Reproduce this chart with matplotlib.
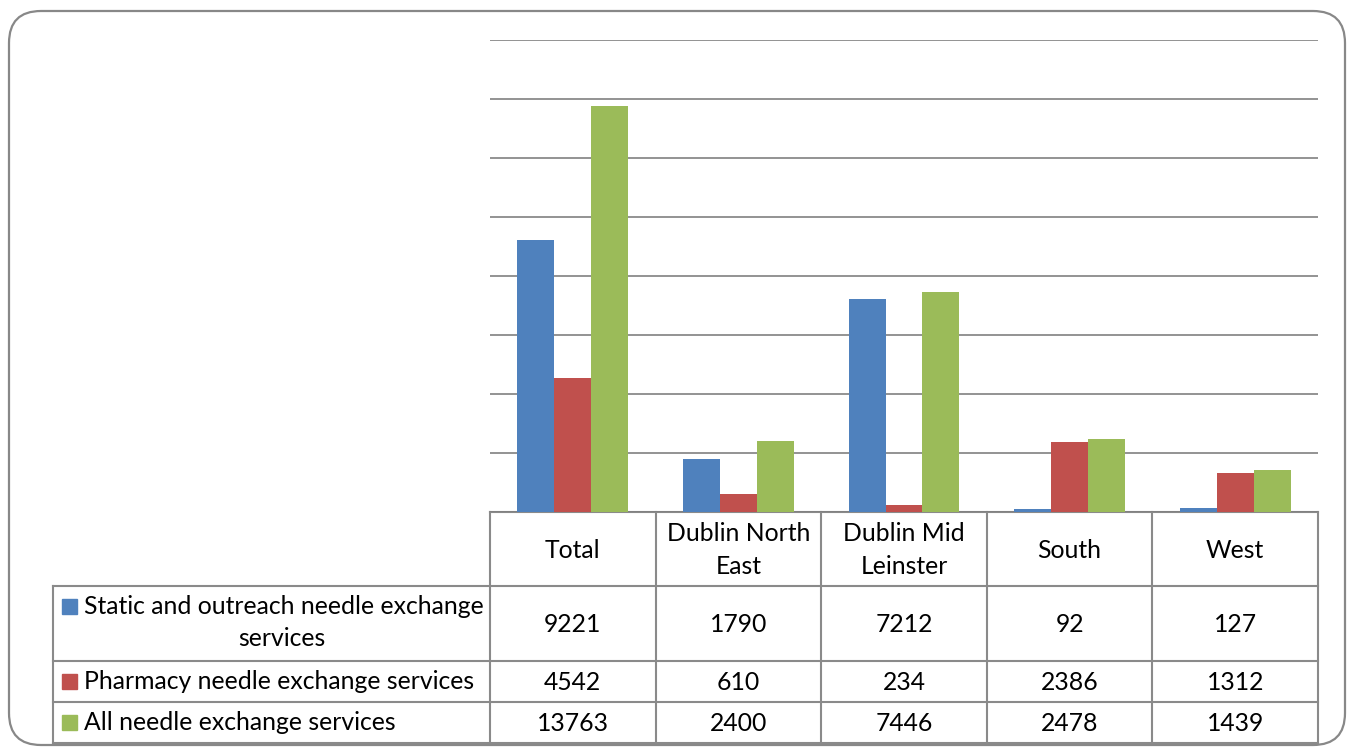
import matplotlib
matplotlib.use("Agg")
import matplotlib.pyplot as plt
import numpy as np
from matplotlib.patches import FancyBboxPatch, Rectangle

categories = ["Total", "Dublin North\nEast", "Dublin Mid\nLeinster", "South", "West"]
series_names = ["Static and outreach needle exchange\nservices",
                "Pharmacy needle exchange services",
                "All needle exchange services"]
static_outreach = [9221, 1790, 7212, 92, 127]
pharmacy = [4542, 610, 234, 2386, 1312]
all_services = [13763, 2400, 7446, 2478, 1439]
colors = ["#4F81BD", "#C0504D", "#9BBB59"]
series = [static_outreach, pharmacy, all_services]

W, H = 1348, 748
fig = plt.figure(figsize=(W / 100, H / 100), dpi=100)
plt.rcParams['font.family'] = ['Lato', 'DejaVu Sans']

def fx(px):
    return px / W
def fy(py):
    return 1 - py / H

PL, PR, PT, PB = 490, 1318, 40, 512
GRID = "#808080"

ov = fig.add_axes([0, 0, 1, 1])
ov.set_xlim(0, W)
ov.set_ylim(H, 0)
ov.axis("off")
ov.add_patch(FancyBboxPatch((9, 11), 1336, 734,
                            boxstyle="round,pad=0,rounding_size=32",
                            fill=False, ec="#888888", lw=1.6))

ax = fig.add_axes([fx(PL), fy(PB), fx(PR) - fx(PL), (PB - PT) / H])
n = len(categories)
x = np.arange(n)
bw = 0.223
for i, (vals, c) in enumerate(zip(series, colors)):
    ax.bar(x + (i - 1) * bw, vals, width=bw, color=c, zorder=3)
ax.set_xlim(-0.5, n - 0.5)
ax.set_ylim(0, 16000)
ax.set_yticks(np.arange(0, 16001, 2000))
ax.yaxis.grid(True, color=GRID, lw=1.2, zorder=0)
ax.set_yticklabels([])
ax.tick_params(left=False, bottom=False, labelbottom=False)
for s in ax.spines.values():
    s.set_visible(False)
ax.set_facecolor("none")

TL = 53
rows_y = [512, 586, 661, 702, 743]
col_w = (PR - PL) / n
col_x = [PL + k * col_w for k in range(n + 1)]
LC = "#8a8a8a"
lw = 1.5
fs = 17.8
ov.plot([PL, PR], [rows_y[0], rows_y[0]], color=LC, lw=lw)
for yv in rows_y[1:]:
    ov.plot([TL, PR], [yv, yv], color=LC, lw=lw)
ov.plot([TL, TL], [rows_y[1], rows_y[-1]], color=LC, lw=lw)
for xv in col_x:
    ov.plot([xv, xv], [rows_y[0], rows_y[-1]], color=LC, lw=lw)

for k, cat in enumerate(categories):
    cx = (col_x[k] + col_x[k + 1]) / 2
    cy = (rows_y[0] + rows_y[1]) / 2
    ov.text(cx, cy + 1, cat, ha="center", va="center", fontsize=fs,
            linespacing=1.5, color="black")

for r, (name, vals, c) in enumerate(zip(series_names, series, colors)):
    y0, y1 = rows_y[r + 1], rows_y[r + 2]
    cy = (y0 + y1) / 2
    for k, v in enumerate(vals):
        cx = (col_x[k] + col_x[k + 1]) / 2
        ov.text(cx, cy + 1, str(v), ha="center", va="center", fontsize=fs, color="black")
    if "\n" in name:
        first, second = name.split("\n")
        ov.add_patch(Rectangle((62, 599), 15, 15, color=c))
        ov.text(84, 607, first, ha="left", va="center", fontsize=fs)
        ov.text(282, 639, second, ha="center", va="center", fontsize=fs)
    else:
        ov.add_patch(Rectangle((62, cy - 7.5), 15, 15, color=c))
        ov.text(84, cy, name, ha="left", va="center", fontsize=fs)

fig.savefig("out.png", dpi=100)
